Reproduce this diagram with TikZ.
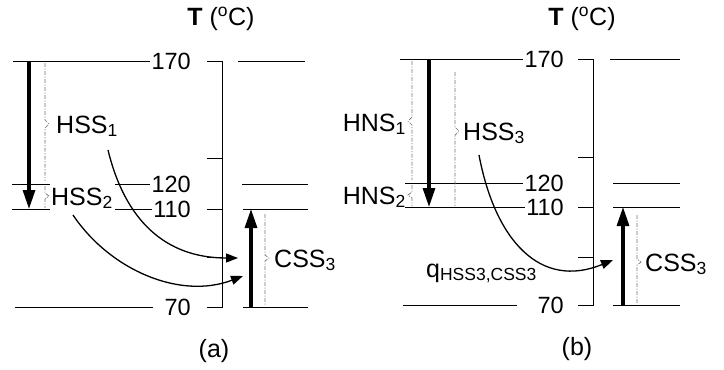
\documentclass[tikz,border=0pt]{standalone}
\usepackage{fontspec}
\setmainfont{Liberation Sans}
\usetikzlibrary{arrows.meta,positioning}
\tikzset{
  templbl/.style={font=\fontsize{23.5}{27}\selectfont, anchor=east, inner sep=1pt},
  strmlbl/.style={font=\fontsize{25}{29}\selectfont, inner sep=0pt},
  titlelbl/.style={font=\fontsize{25}{29}\selectfont},
  level/.style={line width=0.9pt},
  tempaxis/.style={line width=0.7pt},
  bracket/.style={black!55, line width=0.7pt, dash pattern=on 4pt off 1.5pt on 1pt off 1.5pt},
  bigarrow/.style={line width=3.2pt, -{Triangle[length=19pt,width=12pt]}},
  heatarrow/.style={line width=1.3pt, -{Triangle[length=12pt,width=9pt]}}
}
\begin{document}
\begin{tikzpicture}[x=1pt, y=-1pt]
  \useasboundingbox (0,0) rectangle (724,370);

  % ---------- panel (a) ----------
  \node[titlelbl] (titlea) at (221,19) {\textbf{T} (\textsuperscript{o}C)};

  % Temperature scale
  \node[templbl] (a170) at (192,61) {170};
  \node[templbl] (a120) at (192,184) {120};
  \node[templbl] (a110) at (192,209) {110};
  \node[templbl] (a70) at (192,307) {70};
  \draw[tempaxis] (207,61) -- (222,61) -- (222,307) -- (207,307);
  \foreach \y in {158,209,257}
    \draw[tempaxis] (207,\y) -- (222,\y);

  % Hot side levels
  \draw[level] (13,61) -- (a170.west);
  \draw[level] (12,184) -- (50,184);
  \draw[level] (115,184) -- (a120.west);
  \draw[level] (12,209) -- (50,209);
  \draw[level] (115,209) -- (a110.west);
  \draw[level] (15,307) -- (153,307);

  % Cold side levels
  \draw[level] (238,61) -- (305,61);
  \draw[level] (242,184) -- (308,184);
  \draw[level] (243,209) -- (308,209);
  \draw[level] (243,307) -- (308,307);

  % Streams
  \draw[bigarrow] (29,61) -- (29,209);
  \draw[bigarrow] (251,307) -- (251,209);
  \draw[bracket] (45,63) -- (45,120) -- (49,124) -- (45,128) -- (45,181);
  \draw[bracket] (45,186) -- (45,193) -- (49,196) -- (45,199) -- (45,208);
  \draw[bracket] (265,214) -- (265,255) -- (269,258) -- (265,261) -- (265,306);
  \node[strmlbl, anchor=base west] (hss1) at (56,133) {HSS\textsubscript{1}};
  \node[strmlbl, anchor=base west] (hss2) at (51,205) {HSS\textsubscript{2}};
  \node[strmlbl, anchor=base west] (cssa) at (274,267) {CSS\textsubscript{3}};

  % Heat exchange
  \coordinate (qa1s) at (108,150);
  \coordinate (qa1e) at (238,258);
  \coordinate (qa2s) at (73,215);
  \coordinate (qa2e) at (243,276);
  \draw[heatarrow] (qa1s) .. controls (125,220) and (165,258) .. (qa1e);
  \draw[heatarrow] (qa2s) .. controls (110,270) and (180,300) .. (qa2e);

  \node[titlelbl] (capa) at (214,351) {(a)};

  % ---------- panel (b) ----------
  \node[titlelbl] (titleb) at (582,19) {\textbf{T} (\textsuperscript{o}C)};

  % Temperature scale
  \node[templbl] (b170) at (565,59) {170};
  \node[templbl] (b120) at (565,183) {120};
  \node[templbl] (b110) at (565,207) {110};
  \node[templbl] (b70) at (565,305) {70};
  \draw[tempaxis] (578,59) -- (593,59) -- (593,305) -- (578,305);
  \foreach \y in {157,207,257}
    \draw[tempaxis] (578,\y) -- (593,\y);

  % Hot side levels
  \draw[level] (400,59) -- (b170.west);
  \draw[level] (405,183) -- (b120.west);
  \draw[level] (405,207) -- (b110.west);
  \draw[level] (403,305) -- (517,305);

  % Cold side levels
  \draw[level] (610,59) -- (680,59);
  \draw[level] (613,183) -- (680,183);
  \draw[level] (613,207) -- (680,207);
  \draw[level] (613,305) -- (680,305);

  % Streams
  \draw[bigarrow] (429,59) -- (429,207);
  \draw[bigarrow] (623,305) -- (623,207);
  \draw[bracket] (412,61) -- (412,117) -- (408,121) -- (412,125) -- (412,180);
  \draw[bracket] (412,185) -- (412,192) -- (408,195) -- (412,198) -- (412,206);
  \draw[bracket] (455,72) -- (455,127) -- (459,131) -- (455,135) -- (455,206);
  \draw[bracket] (637,215) -- (637,259) -- (641,262) -- (637,265) -- (637,304);
  \node[strmlbl, anchor=base east] (hns1) at (406,131) {HNS\textsubscript{1}};
  \node[strmlbl, anchor=base east] (hns2) at (406,204) {HNS\textsubscript{2}};
  \node[strmlbl, anchor=base west] (hss3) at (463,140) {HSS\textsubscript{3}};
  \node[strmlbl, anchor=base west] (cssb) at (645,271) {CSS\textsubscript{3}};

  % Heat exchange
  \coordinate (qbs) at (479,155);
  \coordinate (qbe) at (613,260);
  \draw[heatarrow] (qbs) .. controls (495,240) and (540,290) .. (qbe);
  \node[strmlbl, anchor=base west] (qlbl) at (426,277) {q\textsubscript{HSS3,CSS3}};

  \node[titlelbl] (capb) at (577,349) {(b)};
\end{tikzpicture}
\end{document}
